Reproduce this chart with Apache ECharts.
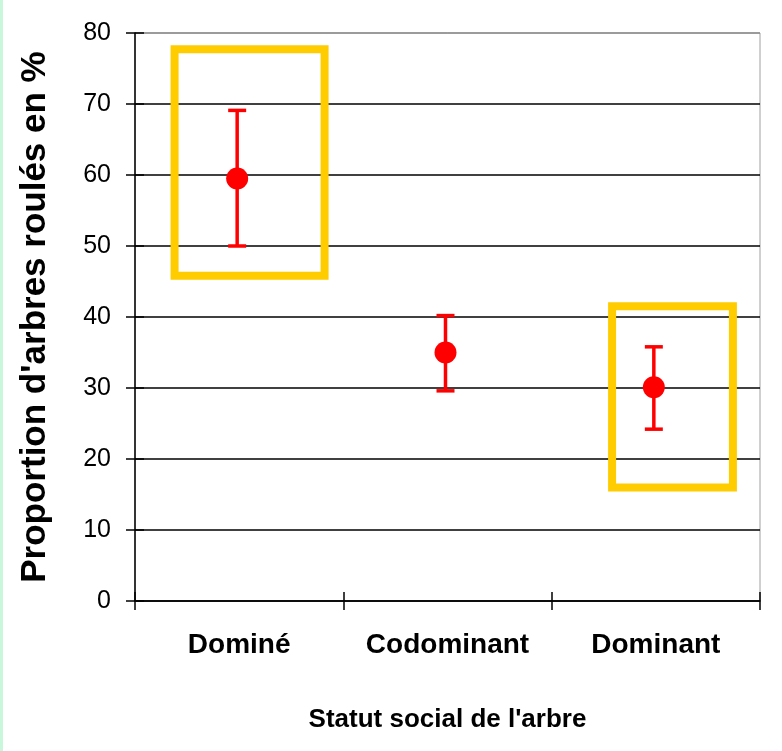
<!DOCTYPE html>
<html>
<head>
<meta charset="utf-8">
<script src="https://cdn.jsdelivr.net/npm/echarts@6/dist/echarts.min.js"></script>
<style>
html,body{margin:0;padding:0;background:#fff;}
#chart{width:782px;height:751px;}
</style>
</head>
<body>
<div id="chart"></div>
<script>
// ---- data ----
var categories = ['Dominé', 'Codominant', 'Dominant'];
var meanValues = [59.5, 35.0, 30.1];
var lowerValues = [50.0, 29.6, 24.2];
var upperValues = [69.1, 40.2, 35.8];
var yTicks = [0, 10, 20, 30, 40, 50, 60, 70, 80];
// highlight boxes: [category index, left offset, right offset (category units), y low, y high]
var highlightBoxes = [
  [0, -0.31, 0.41, 45.8, 77.7],
  [2, -0.21, 0.37, 16.0, 41.5]
];
var xTitle = "Statut social de l'arbre";
var yTitle = "Proportion d'arbres roulés en %";

var FONT = '"Liberation Sans", Arial, sans-serif';
var chart = echarts.init(document.getElementById('chart'), null, {renderer: 'canvas'});

var errData = categories.map(function (c, i) { return [i, lowerValues[i], upperValues[i]]; });
var splitColors = yTicks.map(function (t, i) { return i === yTicks.length - 1 ? '#8a8a8a' : '#000'; });

var option = {
  backgroundColor: '#fff',
  animation: false,
  graphic: [{
    type: 'rect', left: 0, top: 0, shape: {width: 3, height: 751},
    style: {fill: '#c8f7dc'}, silent: true
  }],
  grid: {left: 135, right: 22, top: 33, bottom: 150, show: true,
         borderColor: '#a0a0a0', borderWidth: 1, backgroundColor: 'transparent'},
  xAxis: [{
    type: 'category', data: categories, boundaryGap: true,
    axisLine: {lineStyle: {color: '#000', width: 1.5}},
    axisTick: {show: true, inside: false, length: 9, interval: 0, lineStyle: {color: '#000', width: 1.5}},
    axisLabel: {color: '#000', fontSize: 28, fontWeight: 'bold', fontFamily: FONT, margin: 30, interval: 0},
    name: xTitle, nameLocation: 'middle', nameGap: 106,
    nameTextStyle: {color: '#000', fontSize: 26, fontWeight: 'bold', fontFamily: FONT},
    splitLine: {show: false}
  }, {
    type: 'category', data: categories, boundaryGap: true, position: 'bottom',
    axisLine: {show: false},
    axisTick: {show: true, inside: true, length: 9, interval: 0, lineStyle: {color: '#000', width: 1.5}},
    axisLabel: {show: false}, splitLine: {show: false}
  }],
  yAxis: [{
    type: 'value', min: 0, max: 80, interval: 10,
    axisLine: {show: true, lineStyle: {color: '#000', width: 1.5}},
    axisTick: {show: true, inside: false, length: 9, lineStyle: {color: '#000', width: 1.5}},
    axisLabel: {color: '#000', fontSize: 25, fontFamily: FONT, margin: 24},
    splitLine: {show: true, lineStyle: {color: splitColors, width: 1.5}},
    name: yTitle, nameLocation: 'middle', nameGap: 82,
    nameTextStyle: {color: '#000', fontSize: 35, fontWeight: 'bold', fontFamily: FONT}
  }, {
    type: 'value', min: 0, max: 80, interval: 10, position: 'left',
    axisLine: {show: false},
    axisTick: {show: true, inside: true, length: 9, lineStyle: {color: '#000', width: 1.5}},
    axisLabel: {show: false}, splitLine: {show: false}
  }],
  series: [{
    type: 'custom', name: 'boxes', z: 3,
    data: highlightBoxes,
    renderItem: function (params, api) {
      var c = api.value(0);
      var bw = api.size([1, 0])[0];
      var top = api.coord([c, api.value(4)]);
      var bot = api.coord([c, api.value(3)]);
      var x0 = top[0] + api.value(1) * bw;
      var x1 = top[0] + api.value(2) * bw;
      return {
        type: 'rect',
        shape: {x: x0, y: top[1], width: x1 - x0, height: bot[1] - top[1]},
        style: {fill: 'none', stroke: '#ffcc00', lineWidth: 8}
      };
    }
  }, {
    type: 'custom', name: 'error', z: 4,
    data: errData,
    renderItem: function (params, api) {
      var lo = api.coord([api.value(0), api.value(1)]);
      var hi = api.coord([api.value(0), api.value(2)]);
      var x = lo[0] - 2;
      var hw = 9;
      var st = {stroke: '#ff0000', lineWidth: 3.5};
      return {
        type: 'group',
        children: [
          {type: 'line', shape: {x1: x, y1: hi[1], x2: x, y2: lo[1]}, style: st},
          {type: 'line', shape: {x1: x - hw, y1: hi[1], x2: x + hw, y2: hi[1]}, style: st},
          {type: 'line', shape: {x1: x - hw, y1: lo[1], x2: x + hw, y2: lo[1]}, style: st}
        ]
      };
    }
  }, {
    type: 'custom', name: 'mean', z: 5,
    data: meanValues.map(function (v, i) { return [i, v]; }),
    renderItem: function (params, api) {
      var p = api.coord([api.value(0), api.value(1)]);
      return {type: 'circle', shape: {cx: p[0] - 2, cy: p[1], r: 11}, style: {fill: '#ff0000'}};
    }
  }]
};
chart.setOption(option);
</script>
</body>
</html>
